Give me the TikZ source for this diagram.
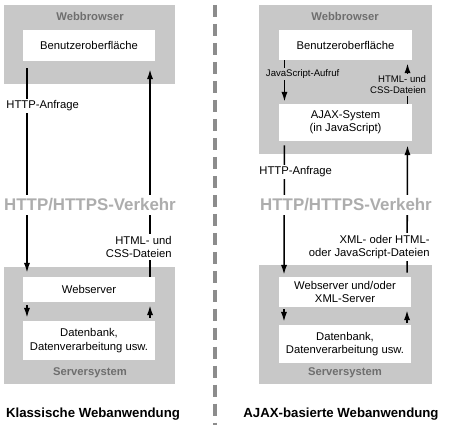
\documentclass[tikz,border=0pt]{standalone}
\usepackage{fontspec}
\setmainfont{Liberation Sans}
\usetikzlibrary{arrows.meta}
\definecolor{boxgrey}{HTML}{C8C8C8}
\definecolor{titlegrey}{HTML}{6E6E6E}
\definecolor{trafficgrey}{HTML}{ADADAD}
\definecolor{rulegrey}{HTML}{8C8C8C}

\begin{document}
\begin{tikzpicture}[x=0.025cm,y=-0.025cm,
    area/.style={fill=boxgrey,inner sep=0pt},
    part/.style={fill=white,inner sep=2pt,align=center,minimum width=3.3cm,font=\fontsize{8}{9.5}\selectfont},
    areaname/.style={text=titlegrey,font=\fontsize{8}{9.5}\selectfont\bfseries},
    flow/.style={line width=1.1pt,-{Latex[length=7pt,width=4.4pt]}},
    note/.style={inner sep=1.5pt,font=\fontsize{8}{9.3}\selectfont},
    smallnote/.style={inner sep=1.2pt,fill=boxgrey,font=\fontsize{6.8}{7.8}\selectfont},
    traffic/.style={fill=white,inner sep=2.5pt,text=trafficgrey,font=\fontsize{12}{14}\selectfont\bfseries},
    kind/.style={font=\fontsize{9.4}{11}\selectfont\bfseries}]
  \useasboundingbox (0,0) rectangle (453,427);

  % classic web application
  \node (browserL)     at (89.5,44.5)  [area,minimum width=4.275cm,minimum height=1.975cm] {};
  \node (browserLname) at (90,16)      [areaname] {Webbrowser};
  \node (uiL)          at (89,45.5)    [part,minimum height=0.775cm] {Benutzeroberfläche};
  \node (serverL)      at (89.5,325.5) [area,minimum width=4.275cm,minimum height=2.925cm] {};
  \node (serverLname)  at (90,373)     [areaname] {Serversystem};
  \node (wsL)          at (89,289.5)   [part,minimum height=0.625cm] {Webserver};
  \node (dbL)          at (89,340.5)   [part,minimum height=0.975cm] {Datenbank,\\Datenverarbeitung usw.};

  \draw [flow,shorten <=0.175cm,shorten >=0.1cm] ([xshift=-1.55cm]uiL.south) -- ([xshift=-1.55cm]wsL.north);
  \draw [flow,shorten >=0.2cm] ([xshift=1.525cm]wsL.north) -- ([xshift=1.525cm]uiL.south);
  \draw [flow,shorten <=0.075cm,shorten >=0.075cm] ([xshift=-1.55cm]wsL.south) -- ([xshift=-1.55cm]dbL.north);
  \draw [flow,shorten <=0.075cm,shorten >=0.075cm] ([xshift=1.525cm]dbL.north) -- ([xshift=1.525cm]wsL.south);

  \node (reqL)     at (4,106)   [note,anchor=west,fill=white] {HTTP-Anfrage};
  \node (respL)    at (174,247) [note,anchor=east,fill=white,align=right] {HTML- und\\CSS-Dateien};
  \node (trafficL) at (90,205)  [traffic] {HTTP/HTTPS-Verkehr};
  \node (kindL)    at (93,414)  [kind] {Klassische Webanwendung};

  % divider
  \draw [rulegrey,line width=2.8pt,dash pattern=on 8.5pt off 5pt] (215,5) -- (215,425);

  % ajax based web application
  \node (browserR)     at (345.5,79.5)  [area,minimum width=4.325cm,minimum height=3.725cm] {};
  \node (browserRname) at (345,16)      [areaname] {Webbrowser};
  \node (uiR)          at (345.5,45)    [part,minimum height=0.75cm] {Benutzeroberfläche};
  \node (ajax)         at (345.5,122.5) [part,minimum height=0.925cm] {AJAX-System\\(in JavaScript)};
  \node (serverR)      at (345.5,324.5) [area,minimum width=4.325cm,minimum height=2.975cm] {};
  \node (serverRname)  at (345,373)     [areaname] {Serversystem};
  \node (wsR)          at (345,292)     [part,minimum height=0.75cm] {Webserver und/oder\\XML-Server};
  \node (dbR)          at (345,344)     [part,minimum height=0.95cm] {Datenbank,\\Datenverarbeitung usw.};

  \draw [flow,shorten >=0.05cm] ([xshift=-1.525cm]uiR.south) -- ([xshift=-1.525cm]ajax.north);
  \draw [flow,shorten >=0.075cm] ([xshift=1.55cm]ajax.north) -- ([xshift=1.55cm]uiR.south);
  \draw [flow,shorten <=0.1cm,shorten >=0.05cm] ([xshift=-1.525cm]ajax.south) -- ([xshift=-1.525cm]wsR.north);
  \draw [flow,shorten <=0.1cm,shorten >=0.1cm] ([xshift=1.55cm]wsR.north) -- ([xshift=1.55cm]ajax.south);
  \draw [flow,shorten <=0.05cm,shorten >=0.075cm] ([xshift=-1.525cm]wsR.south) -- ([xshift=-1.525cm]dbR.north);
  \draw [flow,shorten <=0.05cm,shorten >=0.075cm] ([xshift=1.55cm]dbR.north) -- ([xshift=1.55cm]wsR.south);

  \node (callR)    at (264,74)  [smallnote,anchor=west] {JavaScript-Aufruf};
  \node (filesR)   at (428,85)  [smallnote,anchor=east,align=right] {HTML- und\\CSS-Dateien};
  \node (reqR)     at (257,172) [note,anchor=west,fill=white] {HTTP-Anfrage};
  \node (respR)    at (432,247) [note,anchor=east,fill=white,align=right] {XML- oder HTML-\\oder JavaScript-Dateien};
  \node (trafficR) at (346,205) [traffic] {HTTP/HTTPS-Verkehr};
  \node (kindR)    at (341,414) [kind] {AJAX-basierte Webanwendung};
\end{tikzpicture}
\end{document}
